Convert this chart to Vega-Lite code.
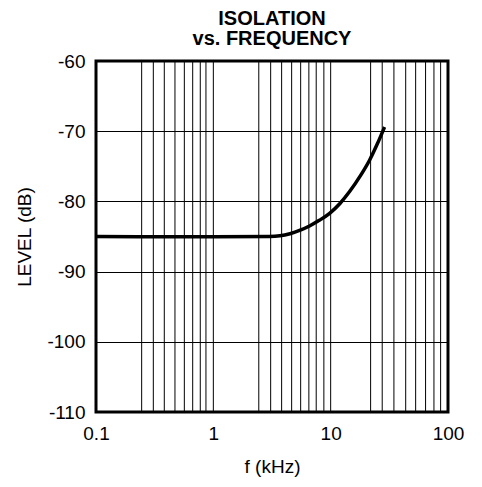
{
  "$schema": "https://vega.github.io/schema/vega-lite/v6.json",
  "width": 352,
  "height": 351,
  "autosize": {"type": "none"},
  "padding": {"left": 96, "top": 61, "right": 34, "bottom": 75},
  "background": "white",
  "title": {
    "text": ["ISOLATION", "vs. FREQUENCY"],
    "font": "Liberation Sans",
    "fontSize": 20,
    "fontWeight": "bold",
    "color": "black",
    "lineHeight": 20,
    "offset": 3,
    "anchor": "middle"
  },
  "config": {
    "view": {"stroke": "black", "strokeWidth": 3},
    "axis": {
      "labelFont": "Liberation Sans",
      "titleFont": "Liberation Sans",
      "labelColor": "black",
      "titleColor": "black",
      "labelFontSize": 19,
      "titleFontSize": 19,
      "titleFontWeight": "normal",
      "gridColor": "black",
      "gridOpacity": 1,
      "gridWidth": 1,
      "domain": false,
      "ticks": false,
      "tickSize": 0
    }
  },
  "datasets": {
    "grid": [
      {"f": 0.245}, {"f": 0.308}, {"f": 0.382}, {"f": 0.471}, {"f": 0.566}, {"f": 0.667}, {"f": 0.774}, {"f": 0.865}, {"f": 1},
      {"f": 2.44}, {"f": 3.08}, {"f": 3.82}, {"f": 4.65}, {"f": 5.55}, {"f": 6.52}, {"f": 7.53}, {"f": 8.75}, {"f": 10},
      {"f": 21.9}, {"f": 27.5}, {"f": 34.6}, {"f": 43.6}, {"f": 53.0}, {"f": 64.4}, {"f": 75.9}, {"f": 86.5}
    ],
    "curve": [
      {"f": 0.1, "level": -85.0},
      {"f": 0.3, "level": -85.05},
      {"f": 1.0, "level": -85.05},
      {"f": 3.0, "level": -85.0},
      {"f": 3.7, "level": -84.9},
      {"f": 4.5, "level": -84.6},
      {"f": 5.5, "level": -84.1},
      {"f": 6.6, "level": -83.5},
      {"f": 8.0, "level": -82.7},
      {"f": 9.8, "level": -81.7},
      {"f": 12.0, "level": -80.3},
      {"f": 14.5, "level": -78.6},
      {"f": 18.0, "level": -76.3},
      {"f": 21.5, "level": -74.1},
      {"f": 25.0, "level": -71.8},
      {"f": 28.8, "level": -69.4}
    ]
  },
  "layer": [
    {
      "data": {"name": "grid"},
      "mark": {"type": "rule", "color": "black", "strokeWidth": 1},
      "encoding": {
        "x": {"field": "f", "type": "quantitative"}
      }
    },
    {
      "data": {"name": "curve"},
      "mark": {"type": "line", "color": "black", "strokeWidth": 3.5, "interpolate": "monotone", "clip": true},
      "encoding": {
        "x": {
          "field": "f",
          "type": "quantitative",
          "scale": {"type": "log", "domain": [0.1, 100], "nice": false},
          "axis": {
            "title": "f (kHz)",
            "values": [0.1, 1, 10, 100],
            "grid": false,
            "labelExpr": "'' + datum.value",
            "labelOverlap": false,
            "labelPadding": 12,
            "titlePadding": 14,
            "labelFlush": false
          }
        },
        "y": {
          "field": "level",
          "type": "quantitative",
          "scale": {"domain": [-110, -60], "nice": false, "zero": false},
          "axis": {
            "title": "LEVEL (dB)",
            "values": [-110, -100, -90, -80, -70, -60],
            "labelExpr": "'' + datum.value",
            "labelPadding": 11,
            "titlePadding": 12,
            "labelFlush": false
          }
        }
      }
    }
  ]
}
